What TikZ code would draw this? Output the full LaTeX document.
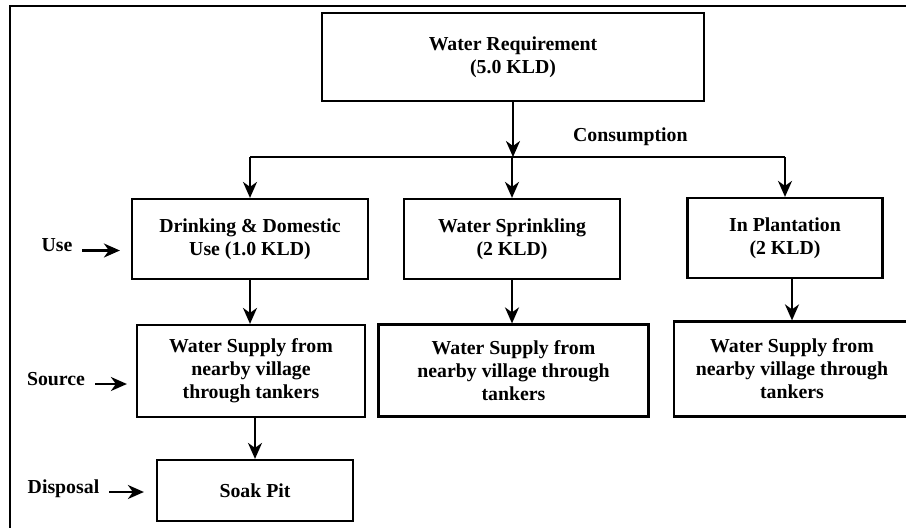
\documentclass[tikz,border=0pt]{standalone}
\usepackage{fontspec}
\setmainfont{Liberation Serif}
\usetikzlibrary{arrows.meta}
\begin{document}
\begin{tikzpicture}[x=1pt,y=-1pt,line width=2.2pt,
  every node/.style={font=\fontsize{19.8}{23}\selectfont\bfseries},
  box/.style={draw,align=center,inner sep=0pt},
  lbl/.style={inner sep=0pt,anchor=base},
  arr/.style={-{Stealth[length=16pt,width=14pt,inset=5pt]}}]
\useasboundingbox (0,0) rectangle (906,528);
\draw (10,528)--(10,6)--(906,6);
% boxes
\node[box,minimum width=382pt,minimum height=88pt] (req) at (513,57) {Water Requirement\\(5.0 KLD)};
\node[box,minimum width=236pt,minimum height=80pt] (drink) at (250,239) {Drinking \& Domestic\\Use (1.0 KLD)};
\node[box,minimum width=216pt,minimum height=80pt] (sprinkle) at (512,239) {Water Sprinkling\\(2 KLD)};
\node[box,minimum width=195pt,minimum height=80pt] (plant) at (785,238) {In Plantation\\(2 KLD)};
\node[box,minimum width=228pt,minimum height=92pt] (supA) at (251,371) {Water Supply from\\nearby village\\through tankers};
\node[box,minimum width=270pt,minimum height=92pt] (supB) at (513.5,370.5) {Water Supply from\\nearby village through\\tankers};
\node[box,minimum width=236pt,minimum height=95pt] (supC) at (792,369) {Water Supply from\\nearby village through\\tankers};
\node[box,minimum width=196pt,minimum height=61pt] (pit) at (255,490.5) {Soak Pit};
% labels
\node[lbl,anchor=base west] (cons) at (572,141.5) {Consumption};
\node[lbl] (use) at (57,251.5) {Use}; \node[lbl] (src) at (56,385) {Source}; \node[lbl] (disp) at (63.5,493) {Disposal};
% connectors
\coordinate (bus) at (514,157);
\draw[arr] (req.south)--(req.south |- bus);
\draw (bus -| drink.north)--(bus -| plant.north);
\draw[arr] (bus -| drink.north)--(drink.north); \draw[arr] (bus -| sprinkle.north)--(sprinkle.north); \draw[arr] (bus -| plant.north)--(plant.north);
\draw[arr] (drink.south)--(drink.south |- supA.north); \draw[arr] (sprinkle.south)--(sprinkle.south |- supB.north);
\draw[arr] (supC.north |- plant.south)--(supC.north); \draw[arr] (pit.north |- supA.south)--(pit.north);
\draw[arr] ([xshift=9pt,yshift=1pt]use.base east)--([xshift=-11pt,yshift=1pt]use.base east -| drink.west);
\draw[arr] ([xshift=9pt,yshift=1pt]src.base east)--([xshift=-9pt,yshift=1pt]src.base east -| supA.west);
\draw[arr] ([xshift=9pt,yshift=1pt]disp.base east)--([xshift=-12pt,yshift=1pt]disp.base east -| pit.west);
\end{tikzpicture}
\end{document}
